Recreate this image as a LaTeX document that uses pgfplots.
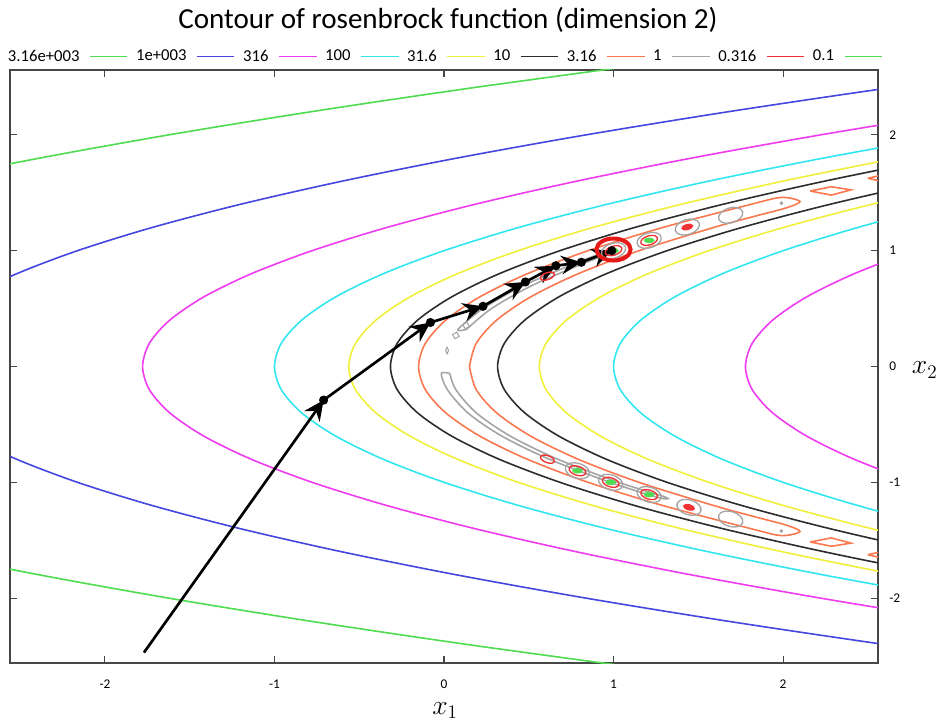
\documentclass[border=0pt]{standalone}
\usepackage{fontspec}
\setmainfont{Carlito}
\usepackage{pgfplots}
\pgfplotsset{compat=1.18}
\usepackage{pgfplotstable}
\usetikzlibrary{arrows.meta}
\definecolor{cG}{RGB}{80,220,80}
\definecolor{cB}{RGB}{70,70,225}
\definecolor{cM}{RGB}{240,60,240}
\definecolor{cC}{RGB}{50,230,240}
\definecolor{cY}{RGB}{240,240,60}
\definecolor{cK}{RGB}{45,45,45}
\definecolor{cO}{RGB}{250,120,80}
\definecolor{cGr}{RGB}{165,165,165}
\definecolor{cR}{RGB}{240,50,50}
\definecolor{cCirc}{RGB}{230,25,25}
\definecolor{frame}{RGB}{70,70,70}

\pgfplotstableread{
x2 G B M1 M2 C1 C2 Y1 Y2 K1 K2
-2.6 1.137 3.598 4.982 8.538 5.76 7.76 6.198 7.322 6.444 7.076
-2.4 0.137 2.598 3.982 7.538 4.76 6.76 5.198 6.322 5.444 6.076
-2.2 -0.783 1.678 3.062 6.618 3.84 5.84 4.278 5.402 4.524 5.156
-2.0 -1.623 0.838 2.222 5.778 3.00 5.00 3.438 4.562 3.684 4.316
-1.8 -2.383 0.078 1.462 5.018 2.24 4.24 2.678 3.802 2.924 3.556
-1.6 -3.063 -0.602 0.782 4.338 1.56 3.56 1.998 3.122 2.244 2.876
-1.4 -3.663 -1.202 0.182 3.738 0.96 2.96 1.398 2.522 1.644 2.276
-1.2 -4.183 -1.722 -0.338 3.218 0.44 2.44 0.878 2.002 1.124 1.756
-1.0 -4.623 -2.162 -0.778 2.778 0.00 2.00 0.438 1.562 0.684 1.316
-0.8 -4.983 -2.522 -1.138 2.418 -0.36 1.64 0.078 1.202 0.324 0.956
-0.6 -5.263 -2.802 -1.418 2.138 -0.64 1.36 -0.202 0.922 0.044 0.676
-0.4 -5.463 -3.002 -1.618 1.938 -0.84 1.16 -0.402 0.722 -0.156 0.476
-0.2 -5.583 -3.122 -1.738 1.818 -0.96 1.04 -0.522 0.602 -0.276 0.356
0.0 -5.623 -3.162 -1.778 1.778 -1.00 1.00 -0.562 0.562 -0.316 0.316
0.2 -5.583 -3.122 -1.738 1.818 -0.96 1.04 -0.522 0.602 -0.276 0.356
0.4 -5.463 -3.002 -1.618 1.938 -0.84 1.16 -0.402 0.722 -0.156 0.476
0.6 -5.263 -2.802 -1.418 2.138 -0.64 1.36 -0.202 0.922 0.044 0.676
0.8 -4.983 -2.522 -1.138 2.418 -0.36 1.64 0.078 1.202 0.324 0.956
1.0 -4.623 -2.162 -0.778 2.778 0.00 2.00 0.438 1.562 0.684 1.316
1.2 -4.183 -1.722 -0.338 3.218 0.44 2.44 0.878 2.002 1.124 1.756
1.4 -3.663 -1.202 0.182 3.738 0.96 2.96 1.398 2.522 1.644 2.276
1.6 -3.063 -0.602 0.782 4.338 1.56 3.56 1.998 3.122 2.244 2.876
1.8 -2.383 0.078 1.462 5.018 2.24 4.24 2.678 3.802 2.924 3.556
2.0 -1.623 0.838 2.222 5.778 3.00 5.00 3.438 4.562 3.684 4.316
2.2 -0.783 1.678 3.062 6.618 3.84 5.84 4.278 5.402 4.524 5.156
2.4 0.137 2.598 3.982 7.538 4.76 6.76 5.198 6.322 5.444 6.076
2.6 1.137 3.598 4.982 8.538 5.76 7.76 6.198 7.322 6.444 7.076
}\parab

\pgfplotstableread{
x y u v
-1.77 -2.47 1.06 2.18
-0.71 -0.29 0.63 0.67
-0.08 0.38 0.31 0.14
0.23 0.52 0.25 0.21
0.48 0.73 0.18 0.14
0.66 0.87 0.15 0.03
0.81 0.90 0.18 0.10
}\route

\begin{document}
\begin{tikzpicture}
\path[use as bounding box] (-7.5pt,-44.25pt) rectangle (700.5pt,497.25pt);
\begin{axis}[
  scale only axis, width=651pt, height=444.75pt,
  xmin=-2.56, xmax=2.56, ymin=-2.56, ymax=2.56,
  xtick={-2,-1,0,1,2}, ytick={-2,-1,0,1,2},
  xtick pos=both, ytick pos=both, yticklabel pos=right,
  tick align=inside, major tick length=5pt,
  axis line style={draw=frame, line width=1.1pt},
  every tick/.style={frame, line width=0.8pt},
  ticklabel style={font=\fontsize{10}{11}\selectfont},
  xticklabel style={yshift=-9pt},
  yticklabel style={xshift=5pt},
  /pgf/number format/assume math mode=true,
  legend columns=10,
  legend plot pos=right,
  legend image code/.code={\draw[#1] (0pt,0pt) -- (28pt,0pt);},
  legend style={at={(0.5,1)}, anchor=south, yshift=1pt, draw=none, fill=none,
    font=\fontsize{12.5}{14}\selectfont,
    /tikz/every odd column/.append style={column sep=5.5pt},
    /tikz/every even column/.append style={column sep=4pt}},
  every axis plot/.append style={line width=1.2pt},
]
% outer contour levels
\addplot[cG, smooth, forget plot] table[x=G, y=x2] {\parab};
\addplot[cB, smooth, forget plot] table[x=B, y=x2] {\parab};
\addplot[cM, smooth, forget plot] table[x=M1, y=x2] {\parab};
\addplot[cM, smooth, forget plot] table[x=M2, y=x2] {\parab};
\addplot[cC, smooth, forget plot] table[x=C1, y=x2] {\parab};
\addplot[cC, smooth, forget plot] table[x=C2, y=x2] {\parab};
\addplot[cY, smooth, forget plot] table[x=Y1, y=x2] {\parab};
\addplot[cY, smooth, forget plot] table[x=Y2, y=x2] {\parab};
\addplot[cK, smooth, forget plot] table[x=K1, y=x2] {\parab};
\addplot[cK, smooth, forget plot] table[x=K2, y=x2] {\parab};
% level 3.16 (orange)
\addplot[cO, smooth, forget plot] coordinates {
(0.15,0) (0.19,0.2) (0.31,0.4) (0.51,0.6) (0.79,0.8) (1.15,1.0) (1.59,1.2) (1.84,1.3) (2.02,1.37)
(2.10,1.425) (1.99,1.46) (1.81,1.4) (1.29,1.2) (0.85,1.0) (0.49,0.8) (0.21,0.6) (0.01,0.4) (-0.11,0.2)
(-0.15,0) (-0.11,-0.2) (0.01,-0.4) (0.21,-0.6) (0.49,-0.8) (0.85,-1.0) (1.29,-1.2) (1.81,-1.4) (1.99,-1.46)
(2.10,-1.425) (2.02,-1.37) (1.84,-1.3) (1.59,-1.2) (1.15,-1.0) (0.79,-0.8) (0.51,-0.6) (0.31,-0.4) (0.19,-0.2) (0.15,0)};
\addplot[cO, forget plot] coordinates {(2.16,1.515) (2.285,1.552) (2.40,1.525) (2.285,1.48) (2.16,1.515)};
\addplot[cO, forget plot] coordinates {(2.16,-1.515) (2.285,-1.552) (2.40,-1.525) (2.285,-1.48) (2.16,-1.515)};
\addplot[cO, forget plot] coordinates {(2.50,1.625) (2.56,1.645) (2.62,1.62) (2.56,1.605) (2.50,1.625)};
\addplot[cO, forget plot] coordinates {(2.50,-1.625) (2.56,-1.645) (2.62,-1.62) (2.56,-1.605) (2.50,-1.625)};
% level 1 (gray)
\addplot[cGr, smooth, forget plot] coordinates {
(0.034,-0.06) (0.07,-0.2) (0.19,-0.4) (0.39,-0.6) (0.67,-0.8) (1.03,-1.0) (1.31,-1.13)
(1.26,-1.13) (0.98,-1.0) (0.62,-0.8) (0.34,-0.6) (0.14,-0.4) (0.02,-0.2) (-0.016,-0.06) (0.034,-0.06)};
\addplot[cGr, smooth, forget plot] coordinates {
(0.132,0.32) (0.28,0.5) (0.52,0.7) (0.84,0.9) (0.99,0.98)
(0.94,0.98) (0.79,0.9) (0.47,0.7) (0.23,0.5) (0.082,0.32) (0.132,0.32)};
\addplot[cGr, only marks, mark=o, mark size=5.6pt, mark options={rotate=17, xscale=1.67, line width=1pt}, forget plot]
  coordinates {(1.0,1.0) (1.21,1.089) (1.435,1.204) (1.691,1.305)};
\addplot[cGr, only marks, mark=o, mark size=5.6pt, mark options={rotate=-17, xscale=1.67, line width=1pt}, forget plot]
  coordinates {(0.787,-0.90) (0.983,-1.0) (1.21,-1.106) (1.445,-1.216) (1.691,-1.317)};
\addplot[cGr, only marks, mark=diamond, mark size=2.5pt, mark options={xscale=0.6, line width=0.8pt}, forget plot]
  coordinates {(0.018,0.138)};
\addplot[cGr, only marks, mark=square, mark size=1.8pt, mark options={rotate=30, line width=0.8pt}, forget plot]
  coordinates {(0.07,0.268) (0.13,0.354)};
\addplot[cGr, only marks, mark=*, mark size=0.7pt, forget plot] coordinates {(1.99,1.41) (1.99,-1.42)};
% level 0.316 (red)
\addplot[cR, only marks, mark=o, mark size=3.4pt, mark options={rotate=17, xscale=1.9, line width=1pt}, forget plot]
  coordinates {(1.0,1.0) (1.21,1.089)};
\addplot[cR, only marks, mark=o, mark size=3.4pt, mark options={rotate=-17, xscale=1.9, line width=1pt}, forget plot]
  coordinates {(0.787,-0.90) (0.983,-1.0) (1.21,-1.106)};
\addplot[cR, only marks, mark=o, mark size=2.6pt, mark options={rotate=20, xscale=2.1, line width=1pt}, forget plot]
  coordinates {(0.61,0.78)};
\addplot[cR, only marks, mark=o, mark size=2.6pt, mark options={rotate=-20, xscale=2.1, line width=1pt}, forget plot]
  coordinates {(0.61,-0.80)};
\addplot[cR, only marks, mark=*, mark size=1.8pt, mark options={rotate=15, xscale=2.2}, forget plot]
  coordinates {(1.435,1.204)};
\addplot[cR, only marks, mark=*, mark size=1.8pt, mark options={rotate=-15, xscale=2.2}, forget plot]
  coordinates {(1.445,-1.216)};
% level 0.1 (green)
\addplot[cG, only marks, mark=*, mark size=1.5pt, mark options={xscale=2.2}, forget plot]
  coordinates {(1.0,1.0) (1.21,1.089) (0.787,-0.90) (0.983,-1.0) (1.21,-1.106)};
% optimisation path
\addplot[black, line width=2pt, -{Stealth[length=15pt, width=14pt, inset=5pt]},
  quiver={u=\thisrow{u}, v=\thisrow{v}}, forget plot] table[x=x, y=y] {\route};
\addplot[black, only marks, mark=*, mark size=2.8pt, forget plot]
  coordinates {(-0.71,-0.29) (-0.08,0.38) (0.23,0.52) (0.48,0.73) (0.66,0.87) (0.81,0.90) (0.99,1.0)};
\addplot[cCirc, only marks, mark=o, mark size=8.25pt, mark options={xscale=1.55, line width=3pt}, forget plot]
  coordinates {(1.0,1.01)};
% legend
\addlegendimage{cG, line width=1pt}\addlegendentry{3.16e+003}
\addlegendimage{cB, line width=1pt}\addlegendentry{1e+003}
\addlegendimage{cM, line width=1pt}\addlegendentry{316}
\addlegendimage{cC, line width=1pt}\addlegendentry{100}
\addlegendimage{cY, line width=1pt}\addlegendentry{31.6}
\addlegendimage{cK, line width=1pt}\addlegendentry{10}
\addlegendimage{cO, line width=1pt}\addlegendentry{3.16}
\addlegendimage{cGr, line width=1pt}\addlegendentry{1}
\addlegendimage{cR, line width=1pt}\addlegendentry{0.316}
\addlegendimage{cG, line width=1pt}\addlegendentry{0.1}
\end{axis}
\node[font=\fontsize{21.8}{25}\selectfont] at (328.5pt,482.25pt) {Contour of rosenbrock function (dimension 2)};
\node[font=\fontsize{22}{24}\selectfont] at (326.25pt,-35.5pt) {$x_1$};
\node[font=\fontsize{22}{24}\selectfont] at (686pt,219.75pt) {$x_2$};
\end{tikzpicture}
\end{document}
